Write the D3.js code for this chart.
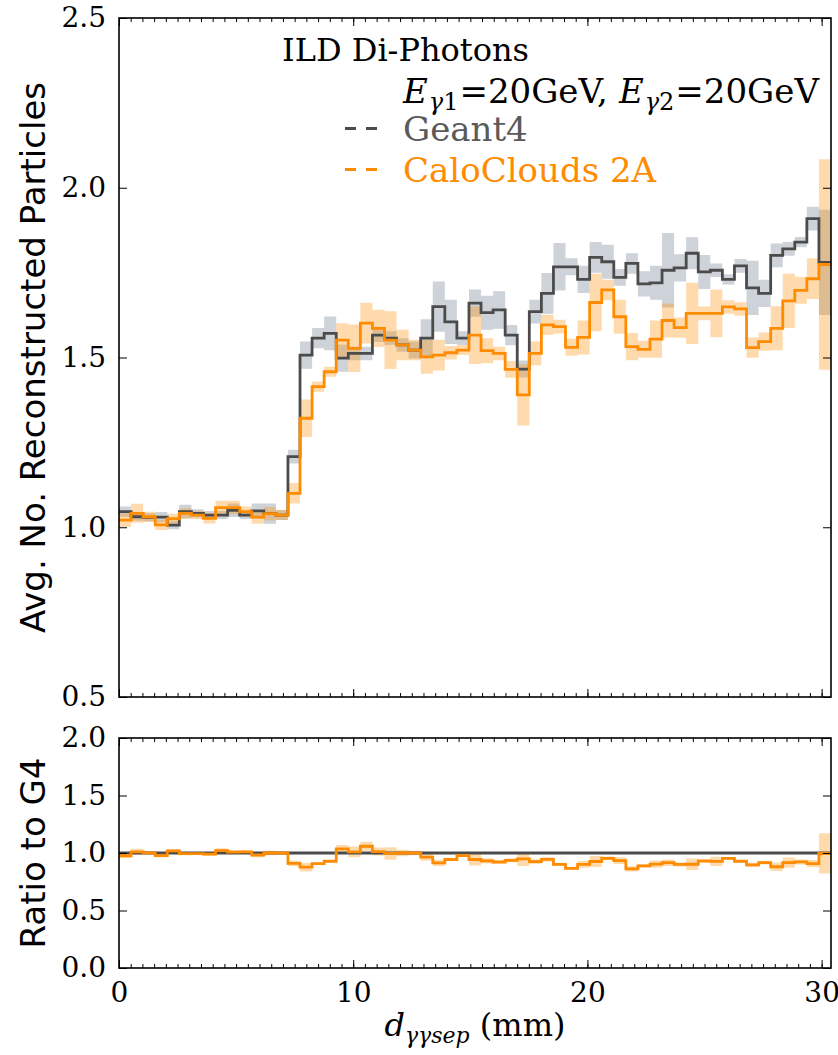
<!DOCTYPE html>
<html>
<head>
<meta charset="utf-8">
<script src="https://cdn.jsdelivr.net/npm/d3@7"></script>
<style>
  body { margin: 0; background: #fff; }
  svg { display: block; }
</style>
</head>
<body>
<svg id="chart" width="838" height="1055"></svg>
<script>
// Histogram binning of the photon separation (mm)
const xMax = 30.4;
const binCount = 59;
const binEdges = d3.range(binCount + 1).map(i => i * xMax / binCount);

// Geant4: mean number of reconstructed particles per bin and its uncertainty
const g4Mean = [
  1.046, 1.031, 1.029, 1.030, 1.006, 1.046, 1.041, 1.036, 1.036, 1.050, 1.036, 1.048, 1.040, 1.036, 1.208,
  1.507, 1.557, 1.571, 1.498, 1.512, 1.512, 1.566, 1.557, 1.537, 1.522, 1.557, 1.650, 1.605, 1.557, 1.660,
  1.632, 1.640, 1.566, 1.466, 1.635, 1.689, 1.767, 1.767, 1.730, 1.795, 1.782, 1.736, 1.777, 1.717, 1.720,
  1.757, 1.764, 1.807, 1.752, 1.757, 1.730, 1.770, 1.705, 1.689, 1.801, 1.820, 1.840, 1.909, 1.780
];
const g4Err = [
  0.015, 0.012, 0.012, 0.015, 0.012, 0.020, 0.012, 0.012, 0.012, 0.020, 0.012, 0.022, 0.030, 0.015, 0.020,
  0.040, 0.030, 0.050, 0.040, 0.020, 0.020, 0.020, 0.020, 0.020, 0.025, 0.056, 0.074, 0.065, 0.020, 0.040,
  0.050, 0.055, 0.030, 0.025, 0.035, 0.060, 0.070, 0.025, 0.040, 0.045, 0.050, 0.025, 0.030, 0.037, 0.050,
  0.110, 0.040, 0.047, 0.050, 0.020, 0.015, 0.020, 0.080, 0.040, 0.035, 0.020, 0.015, 0.035, 0.155
];

// CaloClouds 2A: mean number of reconstructed particles per bin and its uncertainty
const ccMean = [
  1.021, 1.041, 1.031, 1.007, 1.025, 1.041, 1.036, 1.026, 1.058, 1.058, 1.046, 1.030, 1.040, 1.036, 1.100,
  1.321, 1.414, 1.458, 1.551, 1.527, 1.601, 1.586, 1.551, 1.537, 1.522, 1.502, 1.507, 1.514, 1.522, 1.566,
  1.520, 1.512, 1.465, 1.390, 1.512, 1.596, 1.591, 1.530, 1.559, 1.662, 1.699, 1.620, 1.532, 1.524, 1.554,
  1.609, 1.588, 1.630, 1.630, 1.630, 1.649, 1.643, 1.529, 1.547, 1.586, 1.667, 1.698, 1.732, 1.774
];
const ccErr = [
  0.020, 0.028, 0.015, 0.015, 0.015, 0.015, 0.012, 0.015, 0.020, 0.020, 0.015, 0.020, 0.020, 0.015, 0.030,
  0.055, 0.015, 0.015, 0.050, 0.070, 0.060, 0.055, 0.085, 0.045, 0.030, 0.050, 0.045, 0.020, 0.015, 0.085,
  0.037, 0.020, 0.025, 0.090, 0.035, 0.030, 0.020, 0.025, 0.050, 0.085, 0.030, 0.050, 0.040, 0.025, 0.055,
  0.050, 0.030, 0.090, 0.020, 0.070, 0.020, 0.020, 0.030, 0.027, 0.065, 0.080, 0.040, 0.060, 0.310
];

// Axis ticks
const xTicks = [0, 10, 20, 30];
const xMinorTicks = d3.range(0, 30.01, 0.5);
const yTopTicks = [0.5, 1.0, 1.5, 2.0, 2.5];
const yBotTicks = [0.0, 0.5, 1.0, 1.5, 2.0];

const colG4 = "#4b4b4b", colG4Band = "#708090";
const colCC = "#ff8c00", colCCBand = "#ff8c00";
const serif = "'DejaVu Serif', serif";
const sans = "'DejaVu Sans', sans-serif";

const svg = d3.select("#chart");

const x = d3.scaleLinear().domain([0, xMax]).range([119, 831]);
const yTop = d3.scaleLinear().domain([0.5, 2.5]).range([697, 18]);
const yBot = d3.scaleLinear().domain([0, 2]).range([968, 738]);

// Step series helpers: one point per bin edge, last value repeated on the closing edge
function stepData(mean, err) {
  const pts = mean.map((v, i) => ({ x: binEdges[i], v, e: err ? err[i] : 0 }));
  const last = pts[pts.length - 1];
  pts.push({ x: binEdges[mean.length], v: last.v, e: last.e });
  return pts;
}

function drawSeries(g, yScale, pts, lineColor, bandColor, bandOpacity) {
  if (bandColor) {
    g.append("path")
      .datum(pts)
      .attr("fill", bandColor)
      .attr("fill-opacity", bandOpacity)
      .attr("d", d3.area()
        .curve(d3.curveStepAfter)
        .x(d => x(d.x))
        .y0(d => yScale(d.v - d.e))
        .y1(d => yScale(d.v + d.e)));
  }
  if (lineColor) {
    g.append("path")
      .datum(pts)
      .attr("fill", "none")
      .attr("stroke", lineColor)
      .attr("stroke-width", 2.8)
      .attr("stroke-linejoin", "miter")
      .attr("d", d3.line()
        .curve(d3.curveStepAfter)
        .x(d => x(d.x))
        .y(d => yScale(d.v)));
  }
}

function drawAxes(yScale, yTicks, showXLabels) {
  const [yb, yt] = yScale.range();
  const g = svg.append("g");
  const styleAxis = sel => {
    sel.select(".domain").remove();
    sel.selectAll(".tick line").attr("stroke", "#000").attr("stroke-width", 1);
    sel.selectAll(".tick text").attr("font-family", serif).attr("font-size", 28).attr("fill", "#000");
  };
  // major x ticks
  g.append("g").attr("transform", `translate(0,${yb})`)
    .call(d3.axisBottom(x).tickValues(xTicks).tickSizeInner(-8).tickSizeOuter(0).tickPadding(14)
      .tickFormat(showXLabels ? d3.format("d") : () => ""))
    .call(styleAxis);
  g.append("g").attr("transform", `translate(0,${yt})`)
    .call(d3.axisTop(x).tickValues(xTicks).tickSizeInner(-8).tickSizeOuter(0).tickFormat(() => ""))
    .call(styleAxis);
  // minor x ticks
  g.append("g").attr("transform", `translate(0,${yb})`)
    .call(d3.axisBottom(x).tickValues(xMinorTicks).tickSizeInner(-4).tickSizeOuter(0).tickFormat(() => ""))
    .call(styleAxis);
  g.append("g").attr("transform", `translate(0,${yt})`)
    .call(d3.axisTop(x).tickValues(xMinorTicks).tickSizeInner(-4).tickSizeOuter(0).tickFormat(() => ""))
    .call(styleAxis);
  // y ticks
  g.append("g").attr("transform", `translate(${x.range()[0]},0)`)
    .call(d3.axisLeft(yScale).tickValues(yTicks).tickSizeInner(-8).tickSizeOuter(0).tickPadding(13)
      .tickFormat(d3.format(".1f")))
    .call(styleAxis);
  g.append("g").attr("transform", `translate(${x.range()[1]},0)`)
    .call(d3.axisRight(yScale).tickValues(yTicks).tickSizeInner(-8).tickSizeOuter(0).tickFormat(() => ""))
    .call(styleAxis);
  // frame
  g.append("rect")
    .attr("x", x.range()[0]).attr("y", yt)
    .attr("width", x.range()[1] - x.range()[0]).attr("height", yb - yt)
    .attr("fill", "none").attr("stroke", "#000").attr("stroke-width", 1.6);
}

// clip paths for both panels
const defs = svg.append("defs");
[["clipTop", yTop], ["clipBot", yBot]].forEach(([id, ys]) => {
  defs.append("clipPath").attr("id", id).append("rect")
    .attr("x", x.range()[0]).attr("y", ys.range()[1])
    .attr("width", x.range()[1] - x.range()[0]).attr("height", ys.range()[0] - ys.range()[1]);
});

// ---- upper panel: mean number of reconstructed particles
const gTop = svg.append("g").attr("clip-path", "url(#clipTop)");
const g4Pts = stepData(g4Mean, g4Err);
const ccPts = stepData(ccMean, ccErr);
drawSeries(gTop, yTop, g4Pts, null, colG4Band, 0.35);
drawSeries(gTop, yTop, ccPts, null, colCCBand, 0.32);
drawSeries(gTop, yTop, g4Pts, colG4, null);
drawSeries(gTop, yTop, ccPts, colCC, null);
drawAxes(yTop, yTopTicks, false);

// ---- lower panel: ratio to Geant4
const gBot = svg.append("g").attr("clip-path", "url(#clipBot)");
const ratioG4 = g4Mean.map((v, i) => v / g4Mean[i]);
const ratioCC = ccMean.map((v, i) => v / g4Mean[i]);
const ratioCCErr = ccErr.map((e, i) => e / g4Mean[i]);
drawSeries(gBot, yBot, stepData(ratioCC, ratioCCErr), null, colCCBand, 0.32);
drawSeries(gBot, yBot, stepData(ratioG4, null), colG4, null);
drawSeries(gBot, yBot, stepData(ratioCC, null), colCC, null);
drawAxes(yBot, yBotTicks, true);

// ---- axis titles
svg.append("text")
  .attr("transform", `translate(45,${(yTop.range()[0] + yTop.range()[1]) / 2}) rotate(-90)`)
  .attr("text-anchor", "middle")
  .attr("font-family", sans).attr("font-size", 34)
  .text("Avg. No. Reconstructed Particles");
svg.append("text")
  .attr("transform", `translate(45,${(yBot.range()[0] + yBot.range()[1]) / 2}) rotate(-90)`)
  .attr("text-anchor", "middle")
  .attr("font-family", sans).attr("font-size", 34)
  .text("Ratio to G4");

const xTitle = svg.append("text")
  .attr("x", (x.range()[0] + x.range()[1]) / 2).attr("y", 1036)
  .attr("text-anchor", "middle")
  .attr("font-family", serif).attr("font-size", 32);
xTitle.append("tspan").attr("font-style", "italic").text("d");
xTitle.append("tspan").attr("font-style", "italic").attr("font-size", 22).attr("dy", 7).text("γγsep");
xTitle.append("tspan").attr("dy", -7).text(" (mm)");

// ---- annotation and legend
svg.append("text")
  .attr("x", 282).attr("y", 61)
  .attr("font-family", serif).attr("font-size", 32)
  .text("ILD Di-Photons");

// energy line, laid out piece by piece (subscripts lowered, fixed gap after the comma)
const eParts = [
  { t: "E", italic: true, sub: false, after: 1 },
  { t: "γ", italic: true, sub: true, after: 0 },
  { t: "1", italic: false, sub: true, after: 1 },
  { t: "=20GeV,", italic: false, sub: false, after: 11 },
  { t: "E", italic: true, sub: false, after: 1 },
  { t: "γ", italic: true, sub: true, after: 0 },
  { t: "2", italic: false, sub: true, after: 1 },
  { t: "=20GeV", italic: false, sub: false, after: 0 }
];
let ex = 403;
const eG = svg.append("g");
eParts.forEach(p => {
  const el = eG.append("text")
    .attr("x", ex).attr("y", p.sub ? 110 : 103)
    .attr("font-family", serif)
    .attr("font-size", p.sub ? 24 : 34)
    .attr("font-style", p.italic ? "italic" : "normal")
    .text(p.t);
  ex += el.node().getComputedTextLength() + p.after;
});

const legendItems = [
  { label: "Geant4", color: colG4, textColor: "#5a5a5a", y: 141 },
  { label: "CaloClouds 2A", color: colCC, textColor: colCC, y: 182 }
];
const legend = svg.append("g");
legendItems.forEach(item => {
  legend.append("line")
    .attr("x1", 345).attr("x2", 378)
    .attr("y1", item.y - 12.5).attr("y2", item.y - 12.5)
    .attr("stroke", item.color).attr("stroke-width", 2.8)
    .attr("stroke-dasharray", "11,10");
  legend.append("text")
    .attr("x", 403).attr("y", item.y)
    .attr("font-family", serif).attr("font-size", 34)
    .attr("fill", item.textColor)
    .text(item.label);
});
</script>
</body>
</html>
